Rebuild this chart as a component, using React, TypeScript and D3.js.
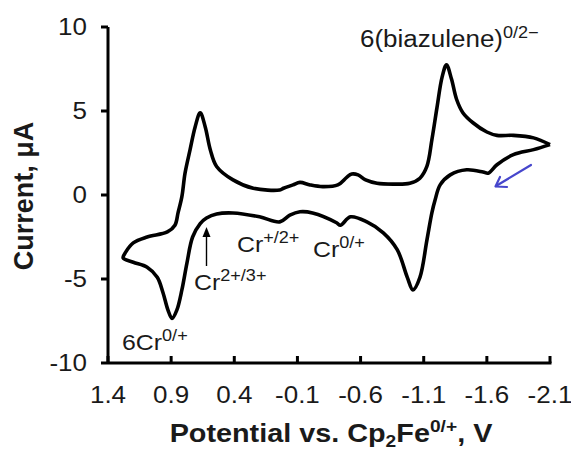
import React from "react";
import * as d3 from "d3";

// anodic sweep (upper branch), from -2.1 V towards positive potential
const upperPotential = [-2.1, -1.97, -1.81, -1.68, -1.6, -1.49, -1.41, -1.36, -1.32, -1.28, -1.245, -1.205, -1.165, -1.125, -1.07, -0.99, -0.86, -0.73, -0.64, -0.58, -0.53, -0.49, -0.42, -0.3, -0.2, -0.12, -0.065, 0.01, 0.04, 0.25, 0.41, 0.54, 0.59, 0.63, 0.67, 0.71, 0.75, 0.79, 0.815, 0.845, 0.87, 0.93, 1.09, 1.2, 1.26, 1.28];
const upperCurrent = [3.0, 3.4, 3.55, 3.55, 3.75, 4.3, 4.9, 5.7, 6.9, 7.75, 7.0, 5.2, 3.3, 1.7, 1.0, 0.7, 0.65, 0.7, 0.9, 1.2, 1.25, 1.05, 0.6, 0.5, 0.6, 0.75, 0.6, 0.4, 0.3, 0.4, 0.9, 1.7, 2.7, 4.05, 4.9, 4.05, 2.7, 1.3, -0.1, -1.05, -1.8, -2.2, -2.5, -2.85, -3.4, -3.75];

// cathodic sweep (lower branch), back to -2.1 V
const lowerPotential = [1.2, 1.09, 1.01, 0.965, 0.925, 0.893, 0.855, 0.815, 0.775, 0.73, 0.67, 0.62, 0.54, 0.41, 0.2, 0.04, -0.04, -0.12, -0.22, -0.41, -0.44, -0.52, -0.65, -0.78, -0.89, -0.97, -1.015, -1.07, -1.125, -1.165, -1.19, -1.23, -1.31, -1.44, -1.57, -1.61, -1.68, -1.81, -1.97, -2.1];
const lowerCurrent = [-4.0, -4.3, -4.9, -5.8, -6.85, -7.35, -6.85, -5.65, -4.05, -2.5, -1.7, -1.37, -1.13, -1.07, -1.3, -1.6, -1.2, -1.0, -1.07, -1.65, -1.8, -1.3, -1.6, -2.25, -3.25, -4.9, -5.65, -4.9, -2.7, -1.05, -0.3, 0.6, 1.2, 1.5, 1.37, 1.3, 1.8, 2.4, 2.7, 3.0];

const xTicks = [1.4, 0.9, 0.4, -0.1, -0.6, -1.1, -1.6, -2.1];
const yTicks = [10, 5, 0, -5, -10];

const W = 571;
const H = 450;
const left = 108, right = 550, top = 27, bottom = 363;
const FONT = "'Liberation Sans', Arial, sans-serif";
const SX = 1.13; // the source picture is a bit wider than tall

const x = d3.scaleLinear().domain([1.4, -2.1]).range([left, right]);
const y = d3.scaleLinear().domain([-10, 10]).range([bottom, top]);

const Label = ({ px, py, size, anchor = "start", bold = false, children }: any) => (
  <g transform={`translate(${px},${py}) scale(${SX},1)`}>
    <text
      textAnchor={anchor}
      fontFamily={FONT}
      fontSize={size}
      fontWeight={bold ? "bold" : "normal"}
      fill="#1a1a1a"
    >
      {children}
    </text>
  </g>
);

const Sup = ({ children, size }: any) => (
  <tspan fontSize={size} dy={-size * 0.55}>
    {children}
  </tspan>
);

export default function App() {
  const pts: [number, number][] = [];
  upperPotential.forEach((v, i) => pts.push([v, upperCurrent[i]]));
  lowerPotential.forEach((v, i) => pts.push([v, lowerCurrent[i]]));

  const line = d3
    .line<[number, number]>()
    .x((d) => x(d[0]))
    .y((d) => y(d[1]))
    .curve(d3.curveCatmullRom.alpha(0.5));

  return (
    <svg
      width={W}
      height={H}
      style={{ position: "absolute", left: 0, top: 0, background: "#fff" }}
    >
      {/* axes */}
      <line x1={left} x2={left} y1={top} y2={bottom} stroke="#000" strokeWidth={3} />
      <line x1={left} x2={right + 1.5} y1={bottom} y2={bottom} stroke="#000" strokeWidth={3} />
      {yTicks.map((t) => (
        <g key={"y" + t}>
          <line x1={left - 7} x2={left} y1={y(t)} y2={y(t)} stroke="#000" strokeWidth={3} />
          <Label px={left - 21} py={y(t) + 8} size={23} anchor="end">
            {t}
          </Label>
        </g>
      ))}
      {xTicks.map((t) => (
        <g key={"x" + t}>
          <line x1={x(t)} x2={x(t)} y1={bottom} y2={bottom - 7} stroke="#000" strokeWidth={3} />
          <Label px={x(t)} py={403} size={23} anchor="middle">
            {t.toFixed(1)}
          </Label>
        </g>
      ))}

      {/* axis titles */}
      <Label px={(left + right) / 2 + 2} py={442} size={25.5} anchor="middle" bold>
        Potential vs. Cp
        <tspan fontSize={17} dy={5}>2</tspan>
        <tspan dy={-5}>Fe</tspan>
        <tspan fontSize={17} dy={-10}>0/+</tspan>
        <tspan dy={10}>, V</tspan>
      </Label>
      <text
        transform={`translate(33,196) rotate(-90)`}
        textAnchor="middle"
        fontFamily={FONT}
        fontSize={27}
        fontWeight="bold"
        fill="#1a1a1a"
      >
        Current, μA
      </text>

      {/* voltammogram */}
      <path d={line(pts) || ""} fill="none" stroke="#000" strokeWidth={3.6} strokeLinejoin="round" />

      {/* annotations */}
      <Label px={360} py={47} size={23}>
        6(biazulene)<Sup size={16}>0/2−</Sup>
      </Label>
      <Label px={194} py={290} size={22}>
        Cr<Sup size={16}>2+/3+</Sup>
      </Label>
      <Label px={237} py={252} size={22}>
        Cr<Sup size={16}>+/2+</Sup>
      </Label>
      <Label px={313} py={257} size={22}>
        Cr<Sup size={16}>0/+</Sup>
      </Label>
      <Label px={122} py={350} size={22}>
        6Cr<Sup size={16}>0/+</Sup>
      </Label>

      <line x1={206.5} x2={206.5} y1={266} y2={234} stroke="#000" strokeWidth={1.4} />
      <path d="M206.5,227 L202.5,237 L210.5,237 Z" fill="#000" />
      <g stroke="#4646cc" strokeWidth={2.2} fill="none" strokeLinecap="round" strokeLinejoin="round">
        <line x1={531} y1={165} x2={496} y2={186} />
        <polyline points="500,177 495.5,186.5 507,187" />
      </g>
    </svg>
  );
}
